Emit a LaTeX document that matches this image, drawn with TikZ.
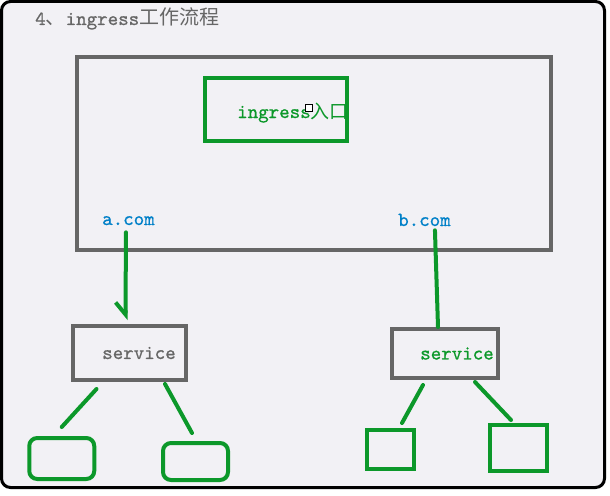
\documentclass[tikz,border=0pt]{standalone}
\usepackage{fontspec}
\newfontfamily\cjk{Noto Sans CJK SC}
\newfontfamily\codefont{lmmono10-regular.otf}[FakeBold=0.8]
\usetikzlibrary{positioning,calc,arrows.meta}
\definecolor{boxgrey}{RGB}{102,102,102}
\definecolor{wiregreen}{RGB}{12,152,42}
\definecolor{linkblue}{RGB}{0,128,200}
\definecolor{canvas}{RGB}{242,241,245}

\begin{document}
\begin{tikzpicture}[x=1pt,y=-1pt,
				greybox/.style={draw=boxgrey,line width=4pt,rectangle,inner sep=0pt},
				greenbox/.style={draw=wiregreen,line width=4pt,rectangle,inner sep=0pt},
				leafround/.style={greenbox,rounded corners=8pt},
				caption/.style={inner sep=0pt,anchor=base west,font=\codefont\fontsize{20}{24}\selectfont},
				wire/.style={draw=wiregreen,line width=4pt,line cap=round}]
				\useasboundingbox (0,0) rectangle (610,495);
				\fill[white] (0,0) rectangle (610,495);
				\draw[line width=3pt,fill=canvas,rounded corners=9pt] (1.5,1.5) rectangle (604.5,487.5);

				\node (TITLE) [caption,text=boxgrey] at (35,25) {4{\cjk\fontsize{20}{22}\selectfont 、}ingress{\cjk\fontsize{20}{22}\selectfont 工作流程}};
				\node (CLUSTER) [greybox,minimum width=474pt,minimum height=193pt] at (314,153.5) {};
				\node (INGRESS) [greenbox,minimum width=142pt,minimum height=63pt] at (275.5,109) {};
				\node (INTXT) [caption,text=wiregreen] at (237,118) {ingress{\cjk\fontsize{19}{20}\selectfont 入口}};
				\node (CARET) [draw=black,fill=white,line width=1pt,minimum size=7pt,inner sep=0pt] at (309,108) {};
				\node (ACOM)  [caption,text=linkblue] at (102,225) {a.com};
				\node (BCOM)  [caption,text=linkblue] at (398,226) {b.com};

				\node (SVCA)  [greybox,minimum width=113pt,minimum height=54pt,
					label={[caption,anchor=center,text=boxgrey,xshift=9.5pt]center:service}] at (129.5,353) {};
				\node (SVCB)  [greybox,minimum width=106pt,minimum height=49pt,
					label={[caption,anchor=center,text=wiregreen,xshift=12pt]center:service}] at (445,353.5) {};

				\node (PODA)  [leafround,minimum width=65pt,minimum height=41pt] at (61.75,458.5) {};
				\node (PODB)  [leafround,minimum width=65pt,minimum height=37pt] at (195.5,461.5) {};
				\node (PODC)  [greenbox,minimum width=47pt,minimum height=39pt] at (390.5,449.5) {};
				\node (PODD)  [greenbox,minimum width=57pt,minimum height=46pt] at (518.5,448) {};

				\draw[wire,-{Straight Barb[length=12pt,width=20pt,right]}] ($(ACOM.south)+(-2.5,7)$) -- ($(SVCA.north)+(-4,-4)$);
				\draw[wire] ($(BCOM.south)+(10.5,4)$) -- ($(SVCB.north)+(-7,0)$);
				\draw[wire] ($(SVCA.south)+(-33,7)$) -- ($(PODA.north)+(0,-9)$);
				\draw[wire] ($(SVCA.south)+(35.5,2)$) -- ($(PODB.north)+(-3.5,-8)$);
				\draw[wire] ($(SVCB.south)+(-22,5)$) -- ($(PODC.north)+(11.5,-5)$);
				\draw[wire] ($(SVCB.south)+(30,2)$) -- ($(PODD.north)+(-7.5,-3)$);
			\end{tikzpicture}
\end{document}
